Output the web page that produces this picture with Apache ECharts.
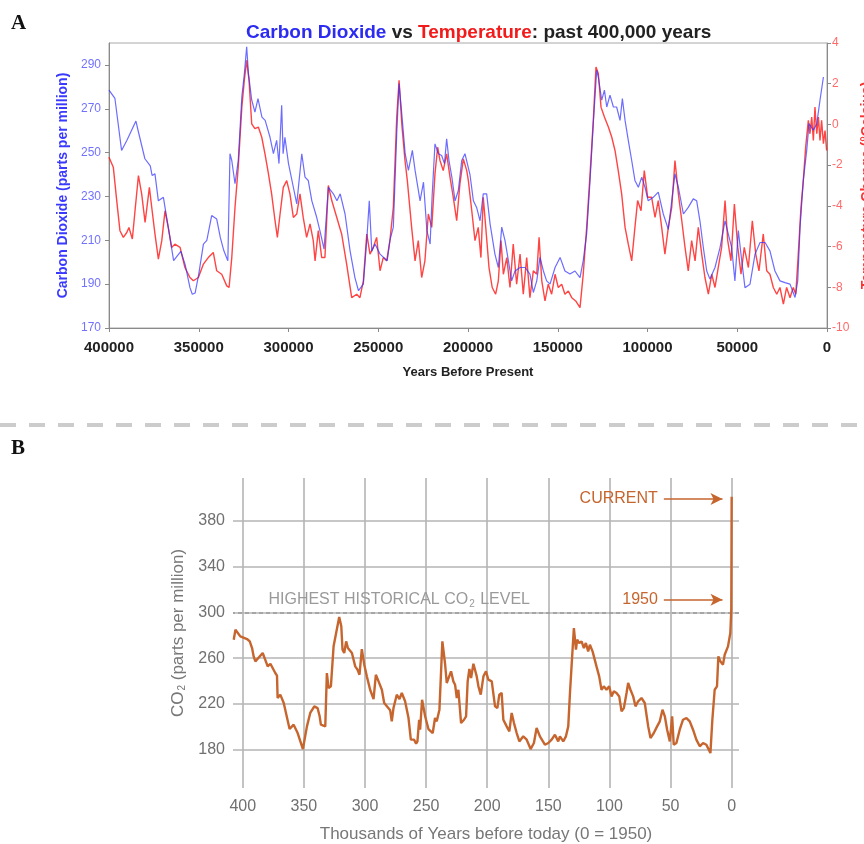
<!DOCTYPE html>
<html><head><meta charset="utf-8">
<script src="https://cdn.jsdelivr.net/npm/echarts@6/dist/echarts.min.js"></script>
<style>html,body{margin:0;padding:0;background:#fff}#c{width:864px;height:844px}</style>
</head><body><div id="c"></div>
<script>
// ---------- Panel A: Vostok CO2 (ppm) ----------
const co2Years = [400000,396700,393000,390000,385000,383600,380000,377000,376000,374400,372500,369700,367000,364000,360000,357600,354900,353600,352000,350000,347400,345500,342800,340000,338000,336000,333800,332600,331600,329800,328000,326000,324600,323300,322300,320500,318700,317000,314800,313000,310300,308400,306600,305300,303800,303000,302000,300000,297300,295400,292600,290800,289000,287000,284300,282500,280200,277800,275000,273000,271200,268500,265700,263000,261000,258300,256400,255000,253600,251800,249000,245000,243500,241600,239700,238400,236900,235000,233200,231000,229500,226700,224800,222900,221100,220000,218400,216500,214700,213100,211900,210600,209000,207200,205400,203500,201700,198900,197000,195200,193300,191500,189600,187700,185000,183100,181200,179400,177500,175700,173800,171000,168200,165500,163600,161700,159900,158000,156200,154300,151500,148700,146000,143200,140400,137600,135800,133900,132000,130200,128300,127400,125500,124000,122700,120900,119000,117200,115300,114000,112500,110700,108800,107000,105100,103200,101400,99600,96800,94000,91200,88400,86500,84700,82800,80000,77300,74500,72600,70800,68900,67000,65200,62400,59600,56800,55000,53100,51300,49400,47500,45700,42900,40100,37300,34500,31800,29000,26200,23400,20600,17800,16300,15000,13200,11300,10000,7600,5700,3900,2000];
const co2Values = [278.5,274.7,251,255.6,264.4,259.4,247.2,244,239.6,240.3,228,229.6,216,200.7,205,199,188.4,185.4,186,194.6,208.3,210,221.3,219.7,211.3,205.2,200.7,249.5,246.4,235.8,246.4,275.4,286,298.3,286,274,268.5,274.6,266.2,264.7,257,249.5,255.6,245,271.6,249.5,257,245,234.2,226.6,249.5,238.8,237.3,228,220.5,214.4,206,234.2,231.2,228,231.2,222,205.2,193,187,190,210,228,205,208.3,203.7,200.7,210,216,258.6,281.5,267.8,249.5,241.9,251,242,228,236.5,214.4,208.3,230,254,249.5,248.7,245,256.3,246.4,238.8,228,232.7,246.4,249.5,240,228,225,218.9,231.2,231.2,217.5,203.7,197.6,216,210,200.7,191.5,196,197.6,197.6,194.6,186.2,191.5,202.2,196,191.5,190,197.6,202.2,196,194.6,196,193,200.7,212.9,237.3,263.2,287.6,284.5,273.9,278.5,270.8,276.2,270.8,270.8,264.7,274.6,264.7,255.6,246.4,237.3,234.2,238.8,234.2,228,229.6,232,222,215,228,240.3,234.2,222,225,228.9,228,218.9,206.7,196,192.3,197.6,206.7,218.9,212.9,206.7,191.5,214.4,200.7,188.4,190,203.7,209,209,205.2,196,191.5,190.7,190,183.9,191.5,216,237.3,251,263.2,260.2,263.2,273.9,284.5];

// ---------- Panel A: temperature change (deg C) ----------
const tempYears = [400000,397600,395700,393900,392000,390100,388900,387000,385500,383600,381800,379900,377500,376200,374400,372500,370600,368800,367000,365100,363300,360400,357700,354900,353000,350200,347400,344700,341900,340000,337200,334400,333100,331600,329800,328000,326000,324600,323300,322000,320500,318700,316800,314900,313100,311300,309400,307500,306200,304700,302900,301000,299200,297300,295400,293600,291800,289900,288000,286200,285200,283400,281500,279700,277800,275900,273100,270400,267600,264800,262000,260200,258300,256400,254600,252800,250900,249000,247200,245300,243500,241600,239700,238400,236900,235100,233800,231400,229500,227700,225800,224000,222100,220200,218400,216900,215600,213800,211900,210000,208200,206300,204500,202600,200700,199800,197900,196100,194300,192800,191500,190100,188300,186500,184600,183100,181600,180300,178400,176600,174800,172900,171000,169200,167300,165500,163600,161700,160400,158900,157100,155300,153400,151500,149700,147800,146000,144100,142200,140000,137600,135800,133900,132000,130200,128700,127400,125900,124000,121800,119900,118100,116300,114400,112500,110700,108800,107000,105500,103600,101800,99900,97700,95800,94000,92100,90300,88400,86500,84700,82800,80900,79100,77300,75400,73500,71700,69800,68000,66100,64200,62400,60600,58700,56800,55300,53500,51600,49700,47900,46100,43800,41600,39700,37900,35500,33600,31800,29900,28000,26200,24300,22500,20600,18800,17400,16000,14500,13200,11900,10400,9500,8500,7600,6700,5700,4800,3900,3000,2000,1100,200];
const tempValues = [-1.61,-2.1,-3.74,-5.22,-5.55,-5.31,-5.06,-5.63,-4.24,-2.51,-3.41,-4.81,-3.09,-4.07,-5.38,-6.62,-5.71,-4.24,-5.06,-6.04,-5.88,-6.04,-7.03,-7.52,-7.68,-7.52,-6.86,-6.54,-6.29,-7.19,-7.36,-7.93,-8.01,-6.54,-4.07,-2.1,0.85,2.17,3.15,2.17,0.03,-0.21,-0.13,-0.63,-1.45,-2.35,-3.41,-4.73,-5.55,-4.4,-3.09,-2.76,-3.41,-4.57,-4.4,-3.41,-4.57,-5.55,-4.89,-5.71,-6.7,-5.22,-6.54,-6.54,-3.0,-3.74,-4.57,-5.38,-6.86,-8.51,-8.34,-8.51,-7.68,-5.38,-6.37,-6.04,-5.55,-7.19,-6.54,-6.7,-5.71,-4.07,0.36,2.17,0.03,-1.77,-2.76,-5.06,-6.7,-5.71,-7.52,-6.7,-4.4,-5.06,-2.43,-1.12,-1.77,-2.27,-1.45,-2.6,-3.58,-4.73,-2.92,-1.69,-2.27,-2.76,-4.24,-5.71,-5.06,-6.54,-3.58,-5.06,-7.03,-8.01,-8.34,-7.68,-5.71,-7.36,-6.54,-8.01,-5.88,-7.85,-6.37,-8.34,-6.54,-8.51,-7.19,-7.36,-5.55,-7.68,-8.67,-7.85,-8.34,-7.36,-8.01,-7.85,-8.34,-8.18,-8.51,-8.67,-9.0,-7.36,-5.06,-2.43,0.2,2.82,2.5,0.85,0.36,-0.13,-0.63,-1.28,-2.27,-3.41,-5.06,-5.88,-6.7,-5.06,-3.74,-4.24,-2.27,-3.58,-3.58,-4.57,-3.74,-5.06,-6.37,-5.06,-4.07,-1.77,-3.41,-4.73,-6.04,-7.19,-5.71,-6.7,-5.06,-6.37,-7.52,-8.34,-7.36,-8.01,-7.03,-6.04,-3.74,-5.71,-6.7,-3.91,-6.04,-7.36,-6.04,-7.03,-4.73,-6.37,-7.19,-5.38,-7.19,-7.36,-8.01,-8.34,-8.01,-8.83,-8.01,-8.51,-8.01,-8.34,-6.37,-4.07,-2.76,-1.12,0.2,-0.46,0.36,-0.79,0.85,-0.46,0.36,-0.79,0.2,-0.95,-0.3,-1.28];

// ---------- Panel B: CO2 (ppm), thousands of years before 1950 ----------
const bYears = [407.4,406.0,402.0,396.5,394.3,392.4,391.1,389.7,383.7,379.6,377.4,373.4,372.0,371.5,369.3,366.5,361.7,358.4,355.1,350.8,347.5,344.8,341.5,338.8,337.1,336.1,332.5,331.2,329.8,327.9,325.7,321.1,319.4,318.4,317.0,315.4,314.0,310.7,308.0,306.1,304.5,302.6,300.6,298.5,295.8,293.0,291.1,288.9,286.2,284.3,279.4,278.1,276.7,274.0,271.8,269.9,267.2,264.4,262.5,259.8,258.2,257.1,255.7,254.9,253.3,250.8,248.1,244.6,242.7,241.3,239.1,236.7,234.5,233.1,230.9,229.6,227.7,226.3,224.9,223.6,221.4,219.0,217.3,216.0,214.6,213.2,211.3,208.6,207.2,205.3,203.1,201.0,199.1,196.3,193.6,191.7,190.1,188.2,186.8,184.1,181.9,180.0,178.1,175.9,173.7,170.5,167.7,164.5,161.8,159.6,156.9,152.8,150.0,147.3,144.6,141.9,140.5,137.8,135.6,133.7,132.3,131.0,129.1,127.4,126.4,124.7,122.8,120.9,119.3,117.4,116.0,113.8,112.5,110.6,108.4,106.5,104.6,102.4,100.2,98.3,96.4,94.2,92.0,90.1,88.2,86.0,84.7,82.8,80.6,78.7,76.5,73.8,71.1,68.3,66.4,63.7,61.0,58.8,56.6,54.7,52.8,50.6,48.7,47.4,45.2,42.5,39.8,37.0,34.3,31.6,28.9,26.1,23.4,20.7,19.3,17.4,15.8,13.9,12.0,10.9,9.3,7.1,5.7,3.0,1.1,0.3,0];
const bValues = [276.1,284.8,279.0,276.7,274.6,268.8,261.5,257.2,264.5,252.8,255.1,247.0,244.7,225.2,228.1,220.8,198.1,201.9,194.6,180.6,200.4,212.1,217.9,216.4,209.2,201.9,200.4,247.0,233.9,235.4,270.3,295.9,287.8,267.4,264.5,274.6,268.8,264.5,252.8,249.9,245.5,267.9,254.3,244.1,232.4,224.3,245.5,239.7,232.4,220.8,214.4,204.8,216.4,228.1,224.3,229.6,222.3,207.7,188.8,188.8,185.3,187.3,206.2,197.5,223.7,209.2,198.1,194.6,207.7,204.8,215.0,274.6,255.1,238.3,244.7,248.5,239.7,236.8,225.2,232.4,203.3,206.2,209.2,239.7,250.5,242.6,255.1,244.1,235.4,228.1,244.1,248.5,241.2,239.7,217.9,216.4,228.1,229.6,206.2,200.4,196.1,212.1,203.3,194.6,187.3,191.7,188.8,180.6,185.9,199.0,191.7,184.4,185.9,188.8,193.1,187.3,191.7,187.3,191.7,200.4,229.6,252.8,286.3,267.4,276.1,273.2,274.6,268.8,273.2,265.9,271.7,265.9,264.5,252.8,244.1,232.4,235.4,232.4,235.4,226.6,231.0,229.6,226.6,213.5,216.4,229.6,238.3,232.4,226.6,217.9,222.3,225.2,220.8,200.4,190.2,194.6,200.4,204.8,215.0,209.2,197.5,187.3,209.2,184.4,185.9,197.5,206.2,207.7,204.8,197.5,188.8,183.0,185.9,184.4,183.0,177.1,206.2,232.4,235.4,261.5,257.2,254.3,263.0,270.3,281.9,302.3,401];
const bXTicks = [0,50,100,150,200,250,300,350,400];
const bYTicks = [180,220,260,300,340,380];
const highestLevel = 300;
const currentLevel = 399;
const level1950 = 311;

const zip = (xs, ys) => xs.map((x, i) => [x, ys[i]]);
const ORANGE = '#c6652e';
const SANS = '"Liberation Sans", Arial, sans-serif';

const chart = echarts.init(document.getElementById('c'), null, {renderer: 'canvas'});
chart.setOption({
  animation: false,
  backgroundColor: '#fff',
  textStyle: {fontFamily: SANS},
  title: {
    text: '{b|Carbon Dioxide}{k| vs }{r|Temperature}{k|: past 400,000 years}',
    left: 241, top: 18,
    textStyle: {
      fontSize: 19, fontWeight: 'bold', fontFamily: SANS,
      rich: {
        b: {color: '#2b2bf2', fontSize: 19, fontWeight: 'bold', fontFamily: SANS},
        r: {color: '#f21a1a', fontSize: 19, fontWeight: 'bold', fontFamily: SANS},
        k: {color: '#222', fontSize: 19, fontWeight: 'bold', fontFamily: SANS}
      }
    }
  },
  graphic: [
    {type: 'text', left: 11, top: 13, style: {text: 'A', font: 'bold 21px "Liberation Serif", serif', fill: '#111'}},
    {type: 'text', left: 11, top: 438, style: {text: 'B', font: 'bold 21px "Liberation Serif", serif', fill: '#111'}},
    {type: 'line', shape: {x1: 0, y1: 425, x2: 864, y2: 425}, style: {stroke: '#cccccc', lineWidth: 4, lineDash: [16, 13]}}
  ],
  grid: [
    {left: 109, top: 43, width: 718, height: 285, show: true, borderColor: '#a8a8a8', borderWidth: 1, outerBoundsMode: 'none', containLabel: false},
    {left: 233, top: 478, width: 506, height: 310, outerBoundsMode: 'none', containLabel: false}
  ],
  xAxis: [
    {
      gridIndex: 0, type: 'value', min: 0, max: 400000, interval: 50000, inverse: true,
      axisLine: {onZero: false, lineStyle: {color: '#8a8a8a'}},
      axisTick: {length: 4, lineStyle: {color: '#8a8a8a'}},
      splitLine: {show: false},
      axisLabel: {color: '#222', fontWeight: 'bold', fontSize: 15, margin: 12, fontFamily: SANS, formatter: v => String(v)},
      name: 'Years Before Present', nameLocation: 'middle', nameGap: 38,
      nameTextStyle: {color: '#222', fontWeight: 'bold', fontSize: 13, fontFamily: SANS}
    },
    {
      gridIndex: 1, type: 'value', min: -6, max: 408, inverse: true,
      axisLine: {show: false, onZero: false},
      axisTick: {show: false, customValues: bXTicks},
      axisLabel: {customValues: bXTicks, color: '#707070', fontSize: 16, margin: 11, fontFamily: SANS},
      splitLine: {show: true, lineStyle: {color: '#b4b4b4', width: 1.6}},
      name: 'Thousands of Years before today (0 = 1950)', nameLocation: 'middle', nameGap: 38,
      nameTextStyle: {color: '#777', fontSize: 17, fontFamily: SANS}
    }
  ],
  yAxis: [
    {
      gridIndex: 0, type: 'value', min: 170, max: 300, interval: 20, position: 'left',
      axisLine: {show: true, onZero: false, lineStyle: {color: '#8a8a8a'}},
      axisTick: {show: true, length: 4, lineStyle: {color: '#8a8a8a'}},
      splitLine: {show: false},
      axisLabel: {color: '#7272ff', fontSize: 12, margin: 8, showMaxLabel: false, fontFamily: SANS},
      name: 'Carbon Dioxide (parts per million)', nameLocation: 'middle', nameGap: 37, nameRotate: 90,
      nameTextStyle: {color: '#3a3aff', fontWeight: 'bold', fontSize: 14, fontFamily: SANS}
    },
    {
      gridIndex: 0, type: 'value', min: -10, max: 4, interval: 2, position: 'right',
      axisLine: {show: true, onZero: false, lineStyle: {color: '#8a8a8a'}},
      axisTick: {show: true, length: 4, lineStyle: {color: '#8a8a8a'}},
      splitLine: {show: false},
      axisLabel: {color: '#ff6a6a', fontSize: 12, margin: 5, fontFamily: SANS},
      name: 'Temperature Change (°Celsius)', nameLocation: 'middle', nameGap: 25, nameRotate: 90,
      nameTextStyle: {color: '#ff3030', fontWeight: 'bold', fontSize: 14, fontFamily: SANS}
    },
    {
      gridIndex: 1, type: 'value', min: 146.6, max: 417.3,
      axisLine: {show: false, onZero: false},
      axisTick: {show: false, customValues: bYTicks},
      axisLabel: {customValues: bYTicks, color: '#707070', fontSize: 16, margin: 8, fontFamily: SANS},
      splitLine: {show: true, lineStyle: {color: '#b4b4b4', width: 1.6}},
      name: '{a|CO}{s|2}{a| (parts per million)}', nameLocation: 'middle', nameGap: 42, nameRotate: 90,
      nameTextStyle: {
        color: '#777', fontSize: 17, fontFamily: SANS,
        rich: {a: {color: '#777', fontSize: 17, fontFamily: SANS}, s: {color: '#777', fontSize: 10, fontFamily: SANS, padding: [9, 0, 0, 1]}}
      }
    }
  ],
  series: [
    {
      name: 'Temperature', type: 'line', xAxisIndex: 0, yAxisIndex: 1, showSymbol: false, silent: true,
      data: zip(tempYears, tempValues),
      lineStyle: {color: 'rgba(255,15,15,0.78)', width: 1.4}
    },
    {
      name: 'Carbon Dioxide', type: 'line', xAxisIndex: 0, yAxisIndex: 0, showSymbol: false, silent: true,
      data: zip(co2Years, co2Values),
      lineStyle: {color: 'rgba(45,45,255,0.7)', width: 1.2}
    },
    {
      name: 'CO2 B', type: 'line', xAxisIndex: 1, yAxisIndex: 2, showSymbol: false, silent: true,
      data: zip(bYears, bValues),
      lineStyle: {color: ORANGE, width: 2.4},
      z: 5,
      markLine: {
        silent: true, animation: false,
        symbol: ['none', 'none'],
        label: {show: false},
        data: [
          {yAxis: highestLevel, lineStyle: {color: '#9a9a9a', type: [4, 3], width: 1.5}},
          [{coord: [55.5, currentLevel], symbol: 'none', label: {show: true, position: 'start', formatter: 'CURRENT', color: ORANGE, fontSize: 16, distance: 6, fontFamily: SANS}},
           {coord: [7.5, currentLevel], symbol: 'arrow', symbolSize: [9, 12]}],
          [{coord: [55.5, level1950], symbol: 'none', label: {show: true, position: 'start', formatter: '1950', color: ORANGE, fontSize: 16, distance: 6, fontFamily: SANS}},
           {coord: [7.5, level1950], symbol: 'arrow', symbolSize: [9, 12]}]
        ],
        lineStyle: {color: ORANGE, type: 'solid', width: 1.6}
      },
      markPoint: {
        silent: true,
        data: [{
          coord: [272, highestLevel], symbol: 'circle', symbolSize: 1,
          itemStyle: {color: 'rgba(0,0,0,0)'},
          label: {
            show: true, position: 'top', distance: 3,
            formatter: '{a|HIGHEST HISTORICAL CO}{s|2}{a| LEVEL}',
            rich: {a: {color: '#9a9a9a', fontSize: 16, fontFamily: SANS}, s: {color: '#9a9a9a', fontSize: 10, fontFamily: SANS, padding: [9, 1, 0, 1]}}
          }
        }]
      }
    }
  ]
});
</script></body></html>
